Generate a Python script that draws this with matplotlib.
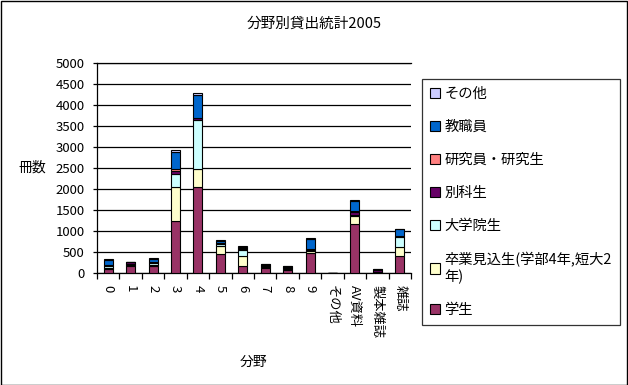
import matplotlib
matplotlib.use("Agg")
import matplotlib.pyplot as plt
import numpy as np
from matplotlib.patches import Rectangle

plt.rcParams["font.family"] = ["Noto Sans CJK JP", "DejaVu Sans"]

# 分野
categories = ["0", "1", "2", "3", "4", "5", "6", "7", "8", "9",
              "その他", "AV資料", "製本雑誌", "雑誌"]

# 利用者区分ごとの冊数 (下から積み上げ)
gakusei = [100, 160, 160, 1230, 2040, 460, 160, 127, 71, 476, 0, 1170, 10, 397]
sotsugyo = [30, 40, 40, 810, 437, 190, 240, 20, 20, 40, 0, 180, 10, 220]
daigakuin = [40, 20, 30, 330, 1175, 30, 140, 20, 20, 20, 0, 40, 10, 230]
bekka = [30, 30, 40, 50, 30, 30, 40, 30, 40, 40, 0, 60, 45, 40]
kenkyu = [0, 0, 0, 50, 10, 0, 10, 0, 0, 0, 0, 20, 5, 0]
kyoshoku = [110, 10, 70, 420, 560, 50, 30, 10, 10, 240, 0, 250, 15, 150]
sonota = [20, 10, 15, 30, 40, 20, 20, 10, 10, 20, 0, 20, 5, 20]

series = [
    ("学生", gakusei, "#993366"),
    ("卒業見込生(学部4年,短大2\n年)", sotsugyo, "#FFFFCC"),
    ("大学院生", daigakuin, "#CCFFFF"),
    ("別科生", bekka, "#660066"),
    ("研究員・研究生", kenkyu, "#FF8080"),
    ("教職員", kyoshoku, "#0066CC"),
    ("その他", sonota, "#CCCCFF"),
]

fig = plt.figure(figsize=(6.28, 3.85), dpi=100)
ax = fig.add_axes([0.1545, 0.291, 0.5, 0.545])

x = np.arange(len(categories))
bottom = np.zeros(len(categories))
handles = []
for label, vals, color in series:
    vals = np.array(vals, dtype=float)
    b = ax.bar(x, vals, 0.4, bottom=bottom, color=color,
               edgecolor="black", linewidth=0.8, label=label, zorder=3)
    handles.append(b)
    bottom += vals

ax.set_xlim(-0.5, len(categories) - 0.5)
ax.set_ylim(0, 5000)
ax.set_yticks(np.arange(0, 5001, 500))
ax.yaxis.grid(True, color="black", linewidth=0.9, zorder=0)
ax.set_axisbelow(True)

ax.set_xticks(x)
ax.set_xticklabels(categories, rotation=-90, fontsize=9.5, va="top")
ax.set_xticks(np.arange(-0.5, len(categories), 1.0), minor=True)
ax.tick_params(axis="x", which="major", length=0, pad=9)
ax.tick_params(axis="x", which="minor", length=4, direction="out", width=0.9)
ax.tick_params(axis="y", length=3, width=0.9, labelsize=9.5, pad=6)

ax.spines["right"].set_visible(False)
for side in ("left", "bottom", "top"):
    ax.spines[side].set_linewidth(0.9)

ax.set_xlabel("分野", fontsize=10)
ax.xaxis.set_label_coords(0.5, -0.39)
ax.set_ylabel("冊数", fontsize=10, rotation=0, va="center", ha="center")
ax.yaxis.set_label_coords(-0.205, 0.5)

fig.suptitle("分野別貸出統計2005", fontsize=10.5, y=0.938, va="center")

leg = fig.legend(handles[::-1], [s[0] for s in series][::-1],
                 loc="upper left", bbox_to_anchor=(0.672, 0.795),
                 fontsize=10.3, frameon=True, fancybox=False,
                 edgecolor="black", handlelength=0.72, handleheight=0.72,
                 handletextpad=0.3, labelspacing=1.33, borderpad=0.55,
                 borderaxespad=0)
leg.get_frame().set_linewidth(0.9)

fig.patches.append(Rectangle((0.001, 0.001), 0.997, 0.997,
                             transform=fig.transFigure, fill=False,
                             edgecolor="black", linewidth=1.0))

fig.savefig("out.png", dpi=100, facecolor="white")
